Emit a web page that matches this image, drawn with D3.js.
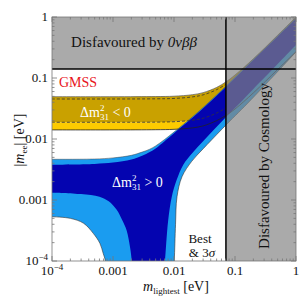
<!DOCTYPE html>
<html><head><meta charset="utf-8">
<script src="https://cdn.jsdelivr.net/npm/d3@7"></script>
<style>body{margin:0;background:#fff}svg{display:block}text{font-family:"Liberation Serif","DejaVu Serif",serif}</style>
</head><body>
<script>
// ---- data ----
const xTicks = [1e-4, 1e-3, 1e-2, 1e-1, 1];
const xTickLabels = [["10","−4"], ["0.001"], ["0.01"], ["0.1"], ["1"]];
const yTicks = [1e-4, 1e-3, 1e-2, 1e-1, 1];
const yTickLabels = [["10","−4"], ["0.001"], ["0.01"], ["0.1"], ["1"]];
const limit0vbb = 0.14;     // |m_ee| upper limit
const limitCosmo = 0.071;   // m_lightest upper limit

// Inverted ordering (Δm²31 < 0)
const ioUpper3s = [[1e-4,0.0493],[0.001,0.0493],[0.005,0.0496],[0.01,0.0503],[0.02,0.0532],[0.03,0.0575],[0.05,0.070],[0.07,0.0855],[0.1,0.112],[0.2,0.206],[0.5,0.502],[1,1.0]];
const ioUpperBest = [[1e-4,0.0453],[0.001,0.0453],[0.005,0.0456],[0.01,0.0462],[0.02,0.0490],[0.03,0.0529],[0.05,0.0644],[0.071,0.0790]];
const ioLowerBest = [[1e-4,0.0188],[0.001,0.0188],[0.005,0.0189],[0.01,0.0192],[0.02,0.0203],[0.03,0.0219],[0.05,0.0266],[0.07,0.0320],[0.1,0.0418],[0.2,0.076],[0.5,0.184],[1,0.36]];
const ioLower3s = [[1e-4,0.0141],[0.001,0.0141],[0.005,0.0142],[0.01,0.0144],[0.02,0.0152],[0.03,0.0164],[0.05,0.0200],[0.07,0.0241],[0.1,0.031],[0.2,0.057],[0.5,0.138],[1,0.27]];

// Normal ordering (Δm²31 > 0)
const noUpper3s = [[1e-4,0.00465],[5e-4,0.0047],[0.001,0.0049],[0.002,0.0054],[0.003,0.0061],[0.004,0.0068],[0.005,0.0077],[0.007,0.0098],[0.01,0.0130],[0.02,0.0230],[0.03,0.0328],[0.05,0.0525],[0.07,0.0725],[0.1,0.103],[0.2,0.203],[0.5,0.49],[1,0.96]];
const noUpperBest = [[1e-4,0.00379],[5e-4,0.0039],[0.001,0.0041],[0.002,0.0046],[0.003,0.0053],[0.004,0.0061],[0.005,0.0070],[0.007,0.0092],[0.01,0.0124],[0.02,0.0222],[0.03,0.0318],[0.05,0.051],[0.07,0.0705],[0.1,0.1],[0.2,0.198],[0.5,0.48],[1,0.94]];
const noLowerBestL = [[1e-4,0.00132],[3e-4,0.00125],[6e-4,0.00113],[0.00085,0.00095],[0.00115,0.00069],[0.0014,0.00048],[0.00167,0.00032],[0.0019,0.00017],[0.00203,0.0001],[0.0021,0.00005]];
const noLowerBestR = [[0.0066,0.00005],[0.0071,0.0001],[0.0080,0.00045],[0.0092,0.00113],[0.011,0.0021],[0.0142,0.0038],[0.02,0.0059],[0.03,0.0092],[0.045,0.0142],[0.07,0.0225],[0.116,0.0375],[0.2,0.066],[0.5,0.169],[1,0.347]];
const noLower3sL = [[1e-4,0.000532],[2e-4,0.0005],[3.3e-4,0.000415],[4.75e-4,0.000284],[6.1e-4,0.000195],[6.9e-4,0.000134],[7.5e-4,0.0001],[7.8e-4,0.00005]];
const noLower3sR = [[0.0097,0.00005],[0.0101,0.0001],[0.0106,0.0004],[0.0112,0.00113],[0.0135,0.0024],[0.0195,0.0043],[0.03,0.0069],[0.057,0.0135],[0.07,0.0167],[0.157,0.0375],[0.3,0.074],[1,0.267]];

// ---- drawing ----
const W = 300, H = 301;
const L = 52, R = 296, T = 17, B = 261;
const x = d3.scaleLog().domain([1e-4, 1]).range([L, R]);
const y = d3.scaleLog().domain([1e-4, 1]).range([B, T]);

const svg = d3.select("body").append("svg").attr("width", W).attr("height", H);
svg.append("defs").append("clipPath").attr("id","clip")
  .append("rect").attr("x",L).attr("y",T).attr("width",R-L).attr("height",B-T);

const line = d3.line().x(d=>x(d[0])).y(d=>y(d[1])).curve(d3.curveCatmullRom.alpha(0.5));
const rev = a => a.slice().reverse();
function region(...segs){
  return segs.map((s,i)=> i===0 ? line(s) : line(s).replace(/^M/,"L")).join("") + "Z";
}

const g = svg.append("g").attr("clip-path","url(#clip)");
// IO bands
g.append("path").attr("d", region(ioLowerBest, rev(ioLower3s))).attr("fill","#fdcb00");
g.append("path").attr("d", region(ioUpper3s, rev(ioLowerBest))).attr("fill","#c9a100");
// NO bands
g.append("path").attr("d", region(noUpper3s, rev(noLower3sR), rev(noLower3sL))).attr("fill","#1a9cf0");
g.append("path").attr("d", region(noUpperBest, rev(noLowerBestR), rev(noLowerBestL))).attr("fill","#0404b0");
// boundary lines
const lineLin = d3.line().x(d=>x(d[0])).y(d=>y(d[1])).curve(d3.curveCatmullRom.alpha(0.5));
g.append("path").attr("d", lineLin(ioUpper3s)).attr("fill","none").attr("stroke","#555").attr("stroke-width",0.7);
g.append("path").attr("d", lineLin(ioLower3s)).attr("fill","none").attr("stroke","#222").attr("stroke-width",0.8);
g.append("path").attr("d", lineLin(ioUpperBest)).attr("fill","none").attr("stroke","#333").attr("stroke-width",0.8).attr("stroke-dasharray","3,2");
g.append("path").attr("d", lineLin(ioLowerBest.filter(d=>d[0]<=0.071))).attr("fill","none").attr("stroke","#333").attr("stroke-width",0.8).attr("stroke-dasharray","3,2");
g.append("path").attr("d", lineLin(noUpper3s)).attr("fill","none").attr("stroke","#444").attr("stroke-width",0.5);
g.append("path").attr("d", lineLin(noLower3sL)).attr("fill","none").attr("stroke","#333").attr("stroke-width",0.6);
g.append("path").attr("d", lineLin(noLower3sR)).attr("fill","none").attr("stroke","#333").attr("stroke-width",0.6);

// disfavoured regions (single path, translucent)
g.append("path")
  .attr("d", `M${x(1e-4)},${y(1)}H${x(1)}V${y(1e-4)}H${x(limitCosmo)}V${y(limit0vbb)}H${x(1e-4)}Z`)
  .attr("fill","#838383").attr("fill-opacity",0.686);

// limit lines
g.append("line").attr("x1",L).attr("x2",R).attr("y1",y(limit0vbb)).attr("y2",y(limit0vbb)).attr("stroke","#000").attr("stroke-width",1.5);
g.append("line").attr("x1",x(limitCosmo)).attr("x2",x(limitCosmo)).attr("y1",T).attr("y2",B).attr("stroke","#000").attr("stroke-width",1.5);

// frame and ticks
const frame = svg.append("g").attr("stroke","#777").attr("stroke-width",0.8).attr("fill","none");
frame.append("rect").attr("x",L).attr("y",T).attr("width",R-L).attr("height",B-T);
const minor = [];
for (let e=-4; e<0; e++) for (let k=1;k<10;k++) minor.push(k*Math.pow(10,e));
minor.push(1);
minor.forEach(v=>{
  const major = xTicks.some(t=>Math.abs(t-v)/t<1e-9);
  const len = major ? 5 : 2.5;
  frame.append("line").attr("x1",x(v)).attr("x2",x(v)).attr("y1",B).attr("y2",B-len);
  frame.append("line").attr("x1",x(v)).attr("x2",x(v)).attr("y1",T).attr("y2",T+len);
  frame.append("line").attr("y1",y(v)).attr("y2",y(v)).attr("x1",L).attr("x2",L+len);
  frame.append("line").attr("y1",y(v)).attr("y2",y(v)).attr("x1",R).attr("x2",R-len);
});

// tick labels
const fs = 13;
xTicks.forEach((v,i)=>{
  const t = svg.append("text").attr("x",x(v)).attr("y",275).attr("text-anchor","middle").attr("font-size",fs).attr("fill","#111");
  t.append("tspan").text(xTickLabels[i][0]);
  if (xTickLabels[i][1]) t.append("tspan").attr("dy",-5).attr("font-size",9).text(xTickLabels[i][1]);
});
yTicks.forEach((v,i)=>{
  const t = svg.append("text").attr("x",48).attr("y",y(v)+4).attr("text-anchor","end").attr("font-size",fs).attr("fill","#111");
  t.append("tspan").text(yTickLabels[i][0]);
  if (yTickLabels[i][1]) t.append("tspan").attr("dy",-5).attr("font-size",9).text(yTickLabels[i][1]);
});

// axis titles
const xl = svg.append("text").attr("x",176).attr("y",291).attr("text-anchor","middle").attr("font-size",14).attr("fill","#111");
xl.append("tspan").attr("font-style","italic").text("m");
xl.append("tspan").attr("font-size",9).attr("dy",3).text("lightest");
xl.append("tspan").attr("dy",-3).text(" [eV]");
const yl = svg.append("text").attr("transform","translate(24,140) rotate(-90)").attr("text-anchor","middle").attr("font-size",14).attr("fill","#111");
yl.append("tspan").text("|");
yl.append("tspan").attr("font-style","italic").text("m");
yl.append("tspan").attr("font-size",9).attr("dy",3).text("ee");
yl.append("tspan").attr("dy",-3).text("| [eV]");

// annotations
const t1 = svg.append("text").attr("x",134).attr("y",47).attr("text-anchor","middle").attr("font-size",15).attr("fill","#111");
t1.append("tspan").text("Disfavoured by ");
t1.append("tspan").attr("font-style","italic").text("0νββ");
svg.append("text").attr("x",59).attr("y",87).attr("font-size",14).attr("fill","#e8141c").text("GMSS");
function dm(xp, yp, rel){
  const t = svg.append("text").attr("x",xp).attr("y",yp).attr("font-size",14).attr("fill","#fff");
  t.append("tspan").text("Δm");
  t.append("tspan").attr("font-size",9).attr("dy",-6).text("2");
  t.append("tspan").attr("font-size",9).attr("dx",-4.5).attr("dy",9).text("31");
  t.append("tspan").attr("dy",-3).text(" " + rel + " 0");
}
dm(80, 117, "<");
dm(112, 187, ">");
svg.append("text").attr("x",200).attr("y",243).attr("text-anchor","middle").attr("font-size",13).attr("fill","#111").text("Best");
const b2 = svg.append("text").attr("x",202).attr("y",257).attr("text-anchor","middle").attr("font-size",13).attr("fill","#111");
b2.append("tspan").text("& 3");
b2.append("tspan").attr("font-style","italic").text("σ");
svg.append("text").attr("transform","translate(269,166) rotate(-90)").attr("text-anchor","middle").attr("font-size",15).attr("fill","#111").text("Disfavoured by Cosmology");
</script>
</body></html>
